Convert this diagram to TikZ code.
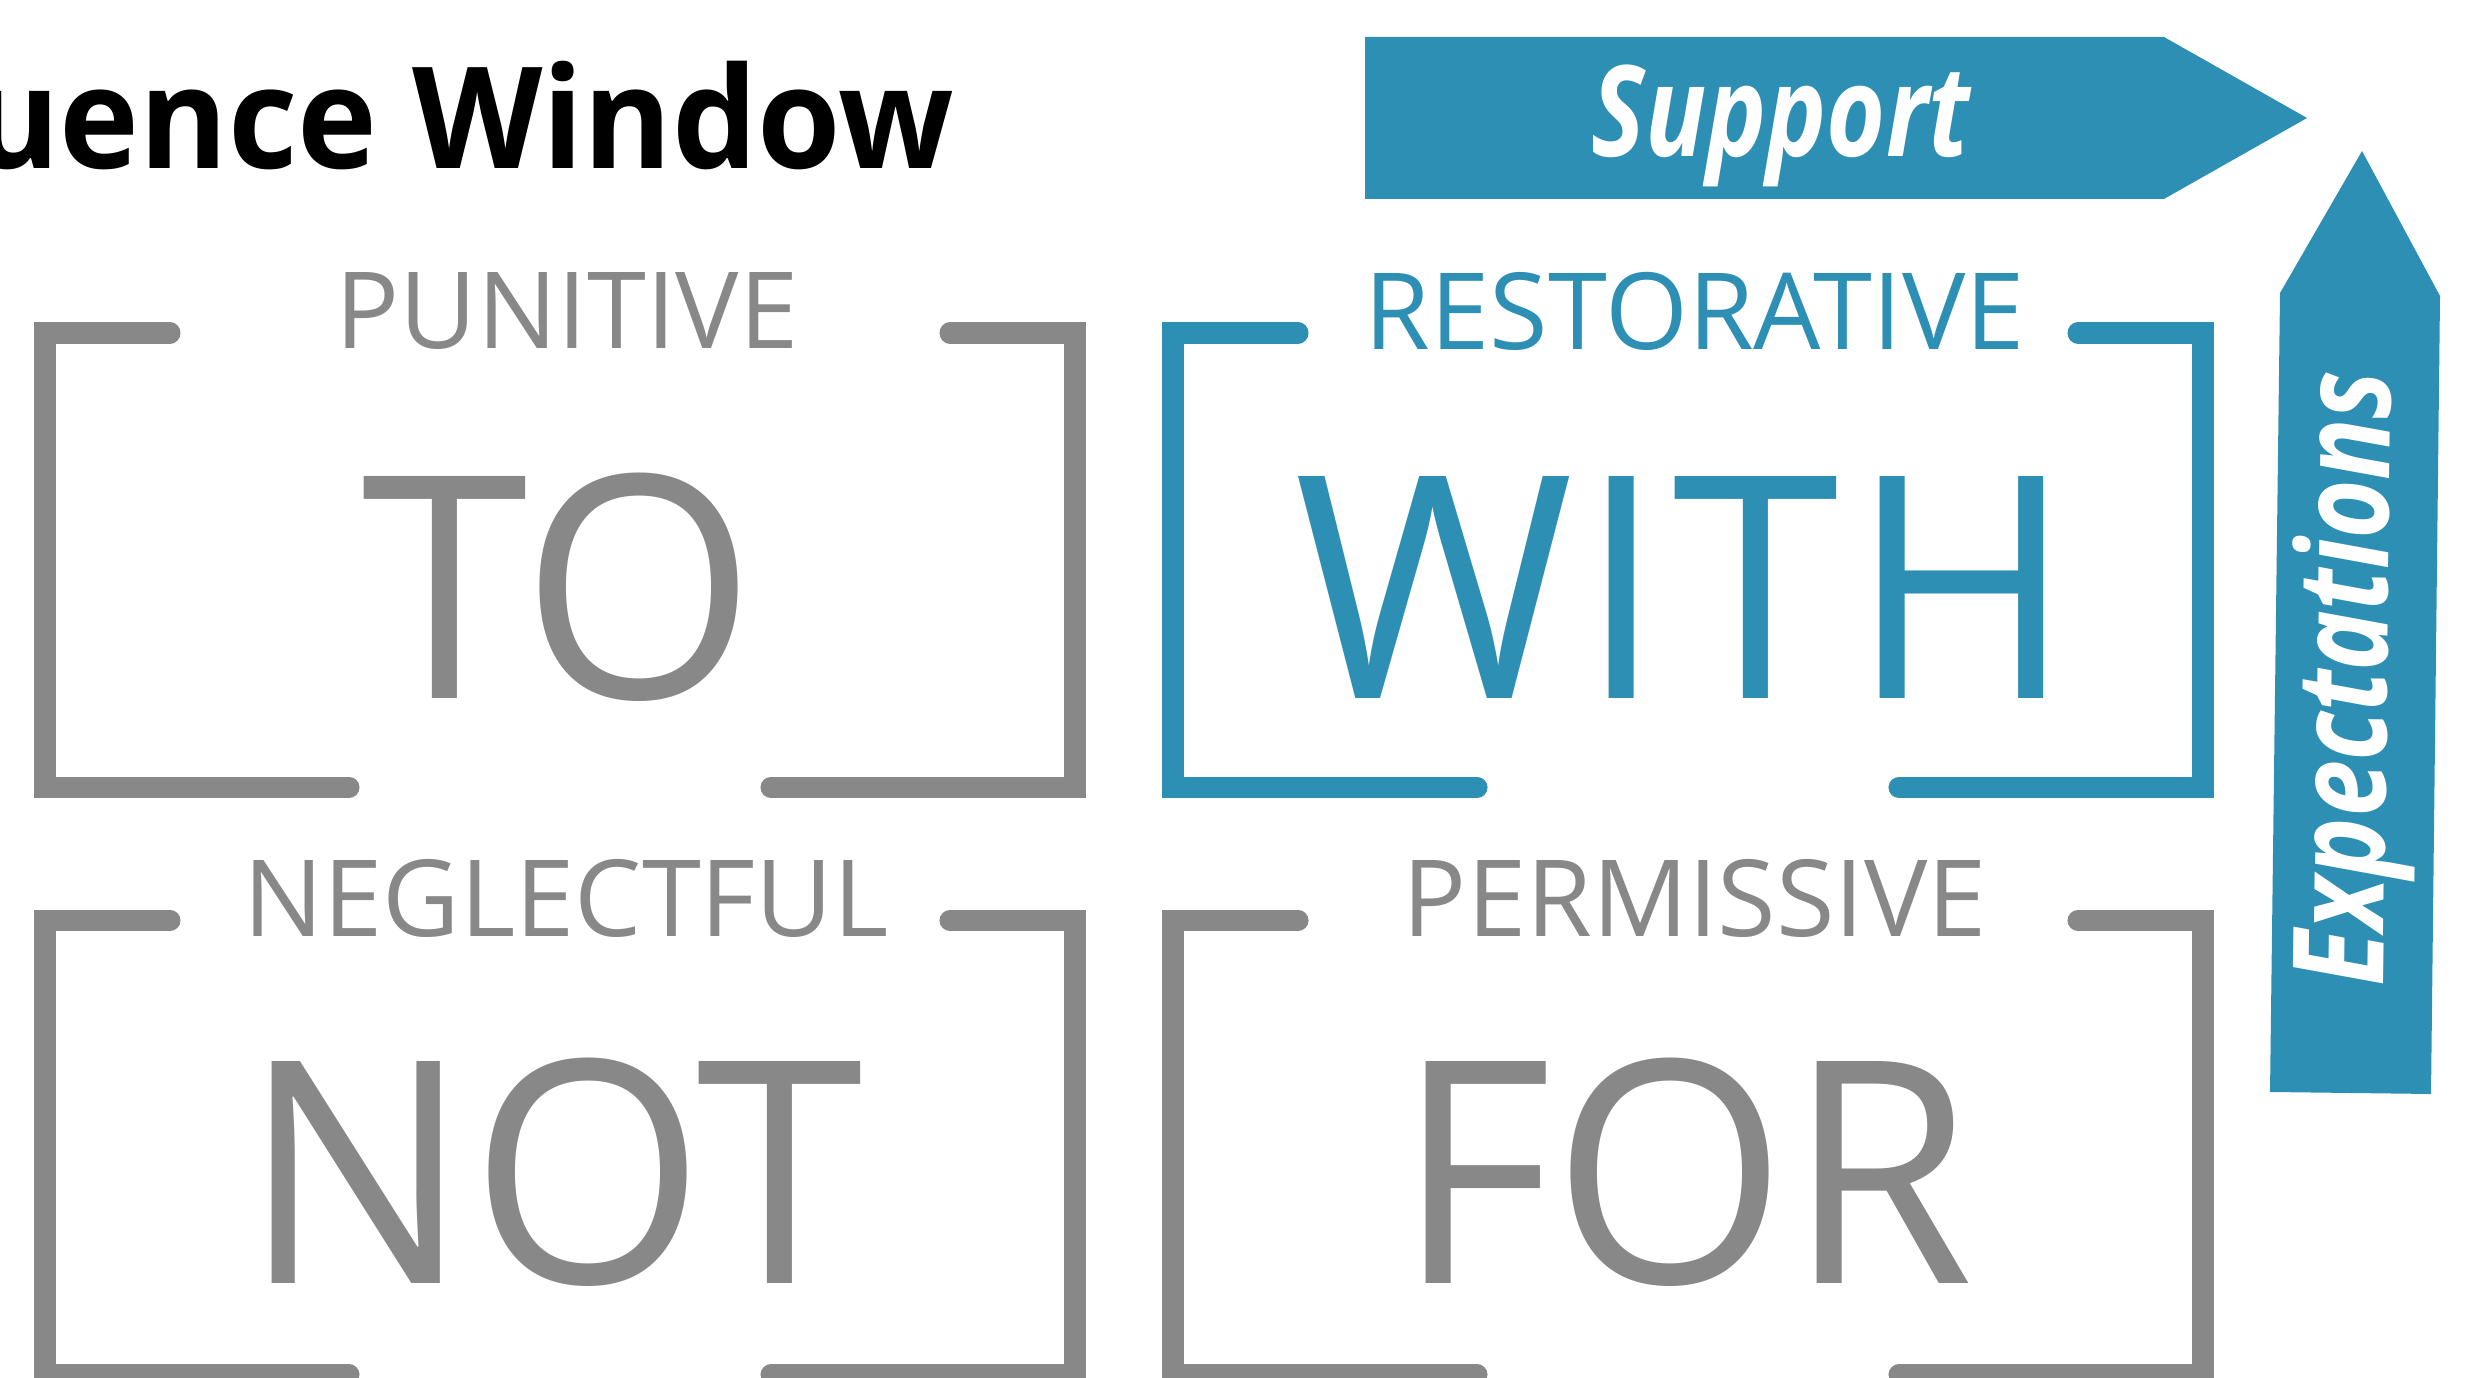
\documentclass[tikz,border=0pt]{standalone}
\usepackage{fontspec}
\setmainfont{Open Sans}
\newfontfamily\estirado[FakeStretch=0.80]{Open Sans}
\newfontfamily\grande[FakeStretch=0.97]{Open Sans}
\newfontfamily\titular[FakeStretch=0.955]{Open Sans}
\usepackage{xcolor}
\definecolor{azul}{RGB}{45,143,180}
\definecolor{gris}{RGB}{136,136,136}
\tikzset{
	marco/.style={line width=6pt, line cap=round},
	etiqueta/.style={inner sep=0pt, font=\fontsize{30.3}{32}\selectfont},
	palabra/.style={inner sep=0pt, font=\grande\fontsize{88.5}{90}\selectfont},
	flecha/.style={fill=azul, draw=none},
	rotulo/.style={inner sep=0pt, text=white, font=\estirado\bfseries\itshape\fontsize{36}{38}\selectfont}
}

\begin{document}
\begin{tikzpicture}
	\useasboundingbox (0,0) rectangle (24.74,13.77);
	\clip (0,0) rectangle (24.74,13.77);
	% titulo, cortado por la izquierda
	\node[anchor=base east, inner sep=0pt, font=\titular\bfseries\fontsize{40.2}{42}\selectfont] (titulo) at (9.55,12.08) {uence Window};
	% flechas
	\fill[flecha] (13.65,13.40) -- (21.64,13.40) -- (23.07,12.59) -- (21.64,11.78) -- (13.65,11.78) -- cycle;
	\node[rotulo, anchor=base] (apoyo) at (17.81,12.20) {Support};
	\fill[flecha] (22.70,2.85) -- (24.31,2.83) -- (24.40,10.81) -- (23.62,12.26) -- (22.80,10.84) -- cycle;
	\node[rotulo, anchor=base, rotate=89.3] (expectativas) at (23.87,6.98) {Expectations};
	% los cuatro marcos
	\foreach \Xc/\Yc/\Col in 
	{0.45/10.44/gris, 11.73/10.44/azul, 0.45/4.565/gris, 11.73/4.565/gris}
	{
		\draw[marco,\Col] (\Xc+1.25,\Yc) -- (\Xc,\Yc) -- (\Xc,\Yc-4.544) -- (\Xc+3.04,\Yc-4.544);
		\draw[marco,\Col] (\Xc+9.05,\Yc) -- (\Xc+10.3,\Yc) -- (\Xc+10.3,\Yc-4.544) -- (\Xc+7.26,\Yc-4.544);
	}
	\foreach \Xc/\Yc/\Nombre/\Texto/\Col in 
	{5.67/10.66/punitivo/PUNITIVE/gris, 16.95/10.66/restaurativo/RESTORATIVE/azul, 5.66/4.785/negligente/NEGLECTFUL/gris, 16.95/4.785/permisivo/PERMISSIVE/gris}
	{
		\node[etiqueta, text=\Col] (\Nombre) at (\Xc,\Yc) {\Texto};
	}
	\foreach \Xc/\Yc/\Nombre/\Texto/\Col in 
	{5.59/7.90/to/TO/gris, 16.84/7.90/with/W\kern1.6pt I\kern2.4pt T\kern3.3pt H/azul, 5.53/2.045/not/NOT/gris, 16.85/2.045/for/FOR/gris}
	{
		\node[palabra, text=\Col] (\Nombre) at (\Xc,\Yc) {\Texto};
	}
\end{tikzpicture}
\end{document}
